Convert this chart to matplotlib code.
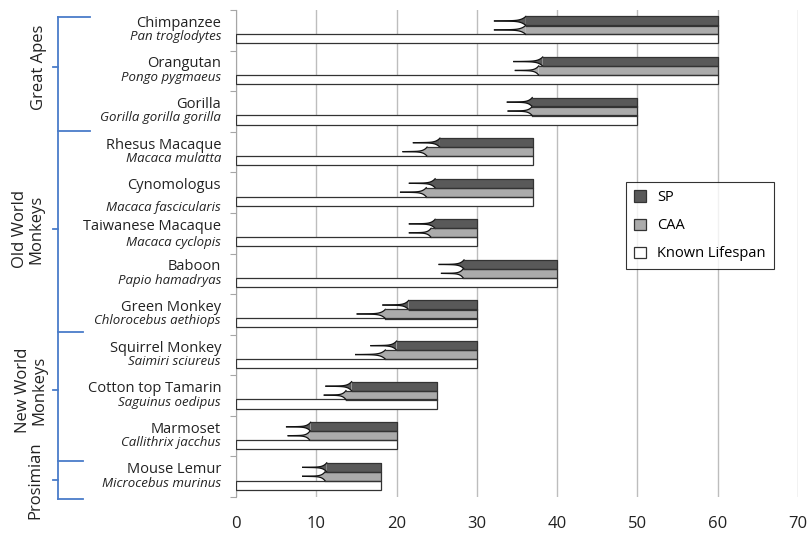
import numpy as np
import matplotlib
matplotlib.use("Agg")
import matplotlib.pyplot as plt
from matplotlib.patches import Polygon, Patch
from matplotlib.transforms import blended_transform_factory

plt.rcParams['font.family'] = ['Open Sans', 'DejaVu Sans']

common = ['Chimpanzee', 'Orangutan', 'Gorilla', 'Rhesus Macaque', 'Cynomologus',
          'Taiwanese Macaque', 'Baboon', 'Green Monkey', 'Squirrel Monkey',
          'Cotton top Tamarin', 'Marmoset', 'Mouse Lemur']
latin = ['Pan troglodytes', 'Pongo pygmaeus', 'Gorilla gorilla gorilla', 'Macaca mulatta',
         'Macaca fascicularis', 'Macaca cyclopis', 'Papio hamadryas', 'Chlorocebus aethiops',
         'Saimiri sciureus', 'Saguinus oedipus', 'Callithrix jacchus', 'Microcebus murinus']

known = [60, 60, 50, 37, 37, 30, 40, 30, 30, 25, 20, 18]
sp_end = [60, 60, 50, 37, 37, 30, 40, 30, 30, 25, 20, 18]
sp_start = [36.1, 38.2, 36.9, 25.4, 24.8, 24.8, 28.4, 21.5, 20.0, 14.4, 9.3, 11.3]
sp_tip = [32.2, 34.6, 33.8, 22.1, 21.6, 21.6, 25.3, 18.3, 16.8, 11.2, 6.3, 8.3]
caa_end = [60, 60, 50, 37, 37, 30, 40, 30, 30, 25, 20, 18]
caa_start = [36.1, 37.7, 36.9, 23.8, 23.7, 24.3, 28.3, 18.6, 18.6, 13.7, 9.2, 11.1]
caa_tip = [32.2, 34.8, 33.9, 20.8, 20.5, 21.6, 25.6, 15.1, 14.9, 11.0, 6.5, 8.3]

groups = ['Great Apes', 'Old World\nMonkeys', 'New World\nMonkeys', 'Prosimian']

W, H = 807, 533
fig = plt.figure(figsize=(W / 100, H / 100), dpi=100)

def fx(x):
    return x / W

def fy(y):
    return 1 - y / H

ax = fig.add_axes([fx(236), fy(497), fx(798) - fx(236), fy(10) - fy(497)])

n = len(common)
yc = np.arange(n)
bh = 0.225
sp_col, caa_col = '#595959', '#ababab'
edge = '#333333'


def tailed_bar(y, start, tip, end, color):
    # rectangle part through barh, left end drawn as a tapering tail
    ax.barh(y, end - start, left=start, height=bh, color=color, lw=0, zorder=3)
    t = np.linspace(0, 1, 60)
    xs = tip + (start - tip) * t
    half = bh / 2 * (0.1 * t + 0.9 * t ** 7)
    top = np.column_stack([xs, y - half])
    bot = np.column_stack([xs[::-1], (y + half)[::-1]])
    ax.add_patch(Polygon(np.vstack([top, bot]), closed=True, fc=color, ec='none', zorder=3))
    ax.plot(xs, y - half, color='#111111', lw=0.9, zorder=4)
    ax.plot(xs, y + half, color='#111111', lw=0.9, zorder=4)
    ax.plot([start, end, end, start], [y - bh / 2, y - bh / 2, y + bh / 2, y + bh / 2],
            color=edge, lw=0.9, zorder=4)


for i in range(n):
    tailed_bar(yc[i] - 0.23, sp_start[i], sp_tip[i], sp_end[i], sp_col)
    tailed_bar(yc[i] - 0.01, caa_start[i], caa_tip[i], caa_end[i], caa_col)

ax.barh(yc + 0.21, known, height=bh, color='white', edgecolor=edge, lw=0.9, zorder=3)

ax.set_xlim(0, 70)
ax.set_ylim(n - 0.5, -0.5)
ax.set_xticks(range(0, 71, 10))
ax.xaxis.grid(True, color='#bdbdbd', lw=1)
ax.set_axisbelow(True)
ax.tick_params(axis='x', length=0, labelsize=12, pad=14, colors='#222222')
ax.set_yticks(np.arange(-0.5, n, 1))
ax.set_yticklabels([])
ax.tick_params(axis='y', length=4, color='#a6a6a6', direction='out')
for s in ['top', 'right', 'bottom']:
    ax.spines[s].set_visible(False)
ax.spines['left'].set_color('#a6a6a6')

# species names
tr = blended_transform_factory(fig.transFigure, ax.transData)
lat_off = {'Cynomologus': 0.36, 'Taiwanese Macaque': 0.23}
for i in range(n):
    ax.text(fx(221), yc[i] - 0.17, common[i], transform=tr, ha='right', va='center',
            fontsize=10.5, color='#222222')
    ax.text(fx(221), yc[i] + lat_off.get(common[i], 0.16), latin[i], transform=tr,
            ha='right', va='center', fontsize=9.5, style='italic', color='#222222')

# group brackets
blue = '#4a7cc9'
def fline(xs, ys):
    fig.add_artist(plt.Line2D([fx(v) for v in xs], [fy(v) for v in ys], color=blue, lw=1.3))

fline([58, 58], [17, 499])
for y, x2 in [(17, 90), (131, 90), (332, 83), (461, 83), (499, 83)]:
    fline([58, x2], [y, y])
mids = [67, 229, 390, 480]
labx = [39, 28, 31, 35]
for g, ym, xl in zip(groups, mids, labx):
    fline([53, 58], [ym, ym])
    fig.text(fx(xl), fy(ym), g, rotation=90, ha='center', va='center', fontsize=12,
             color='#222222', linespacing=1.0, multialignment='center')

handles = [Patch(fc=sp_col, ec=edge, lw=0.9, label='SP'),
           Patch(fc=caa_col, ec=edge, lw=0.9, label='CAA'),
           Patch(fc='white', ec=edge, lw=0.9, label='Known Lifespan')]
leg = fig.legend(handles=handles, loc='upper left', bbox_to_anchor=(fx(626), fy(182)),
                 frameon=True, fancybox=False, fontsize=10.5, handlelength=0.8,
                 handleheight=0.8, handletextpad=0.8, labelspacing=0.9, borderpad=0.55,
                 borderaxespad=0)
leg.get_frame().set_edgecolor('black')
leg.get_frame().set_linewidth(0.8)

fig.savefig('out.png', dpi=100)
